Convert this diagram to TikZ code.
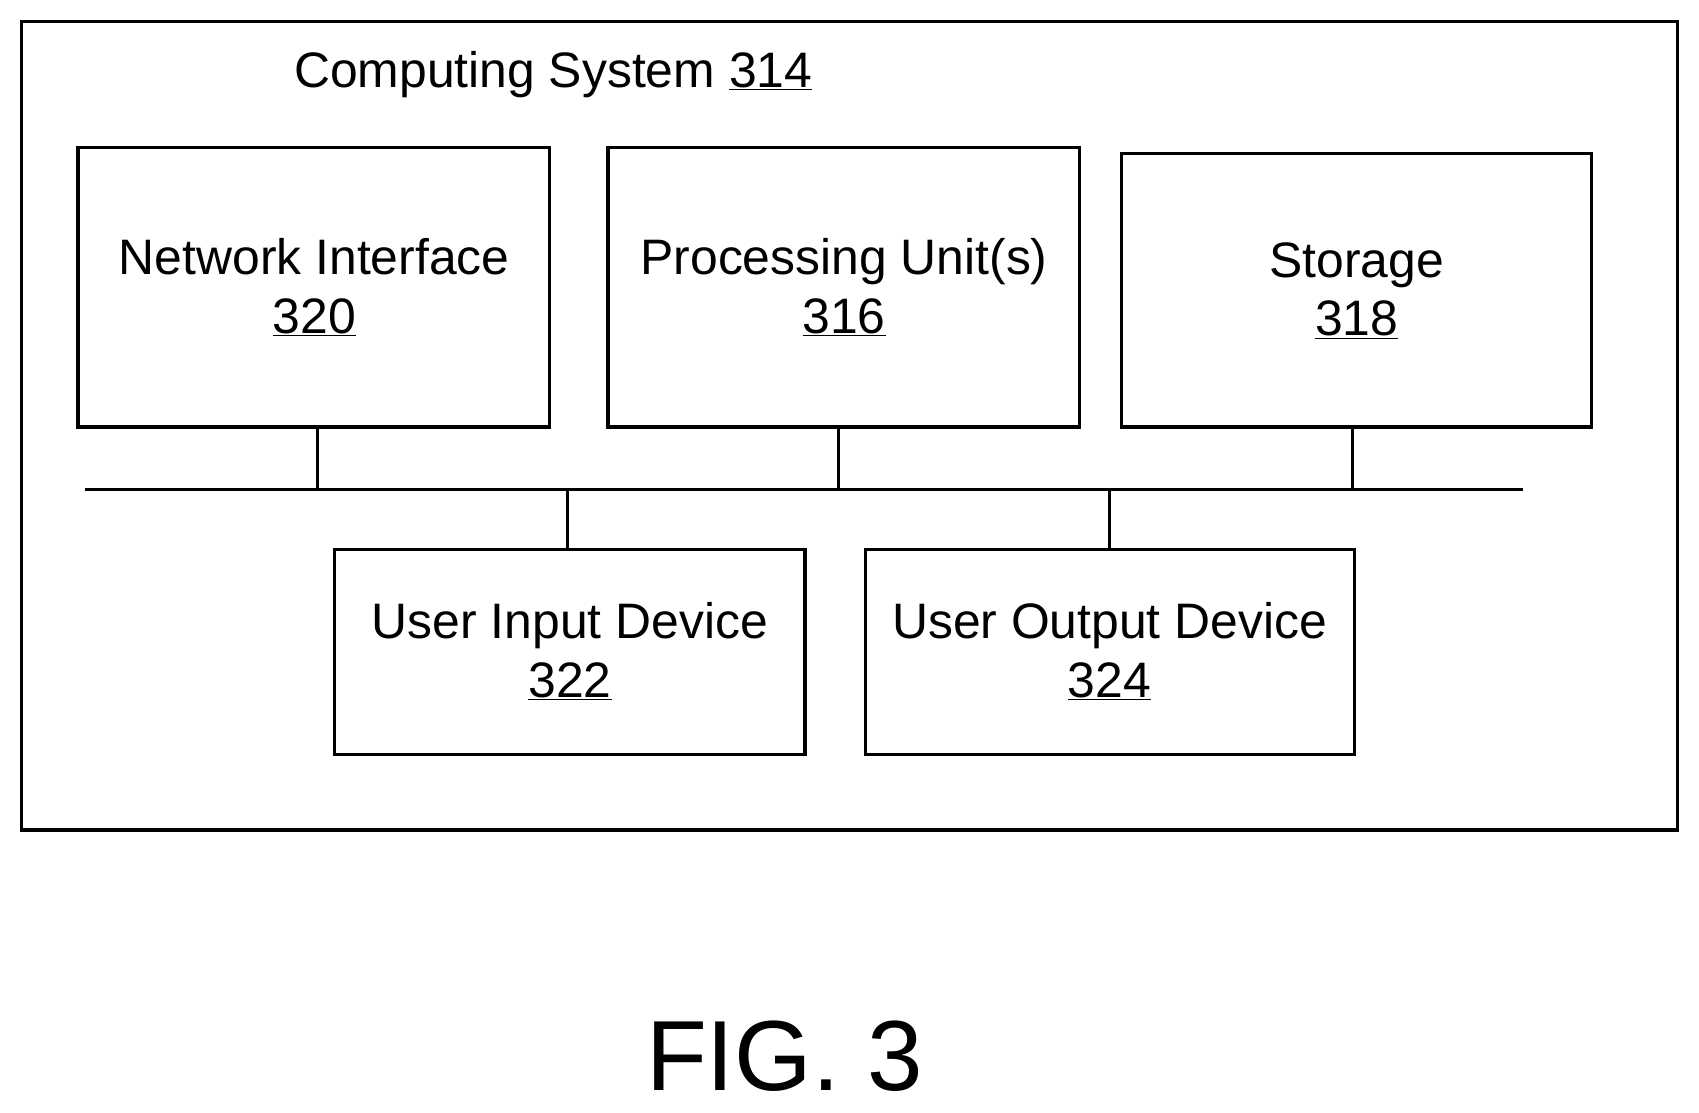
\documentclass[tikz,border=0pt]{standalone}
\usepackage{fontspec}
\setmainfont{Liberation Sans}
\begin{document}
\begin{tikzpicture}[x=1pt,y=-1pt,line width=3pt,
  box/.style={draw,rectangle},
  lbl/.style={font=\fontsize{46}{56}\selectfont,align=center,inner sep=0pt}]
\useasboundingbox (0,0) rectangle (1568,1027);
\draw (20,20) rectangle (1548,766);
\node[lbl,anchor=west] (title) at (270,69) {Computing System \underline{314}};
\draw (72,136) rectangle (507,394);
\node[lbl] (ni) at (290,265) {Network Interface\\[-2pt]\underline{320}};
\draw (561,136) rectangle (996,394);
\node[lbl] (pu) at (779,265) {Processing Unit(s)\\[-2pt]\underline{316}};
\draw (1035,142) rectangle (1469,394);
\node[lbl] (st) at (1252,268) {Storage\\[-2pt]\underline{318}};
\draw (309,507) rectangle (743,696);
\node[lbl] (ui) at (526,601) {User Input Device\\[-2pt]\underline{322}};
\draw (799,507) rectangle (1250,696);
\node[lbl] (uo) at (1024,601) {User Output Device\\[-2pt]\underline{324}};
\coordinate (bl) at (78,452); \coordinate (br) at (1406,452);
\draw (bl) -- (br);
\draw (293,394) -- (293,452);
\draw (774,394) -- (774,452);
\draw (1248,394) -- (1248,452);
\draw (524,452) -- (524,507);
\draw (1024,452) -- (1024,507);
\node[lbl,font=\fontsize{92}{110}\selectfont] (fig) at (724,975) {FIG. 3};
\end{tikzpicture}
\end{document}
